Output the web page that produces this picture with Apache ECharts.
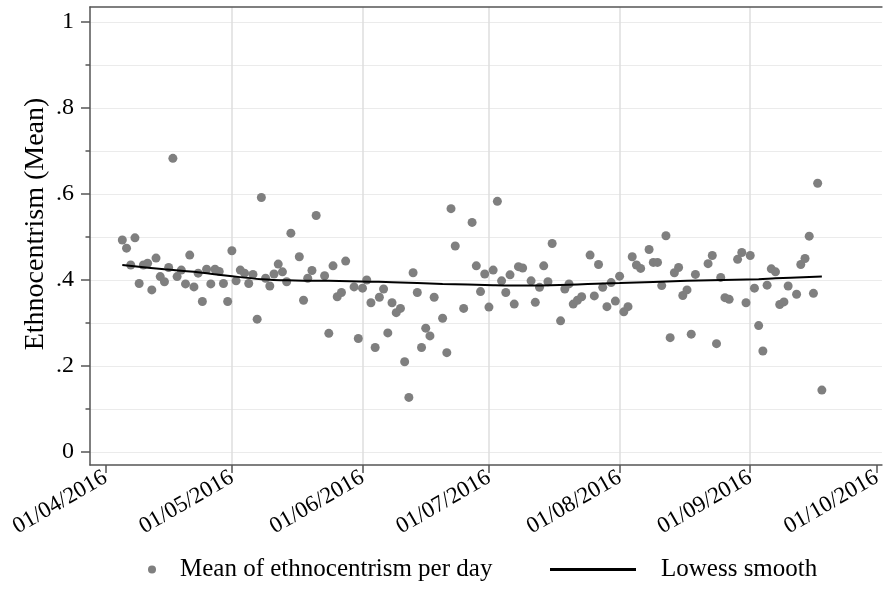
<!DOCTYPE html>
<html>
<head>
<meta charset="utf-8">
<script src="https://cdn.jsdelivr.net/npm/echarts@6/dist/echarts.min.js"></script>
<style>
html,body{margin:0;padding:0;background:#fff;}
#chart{width:885px;height:609px;}
</style>
</head>
<body>
<div id="chart"></div>
<script>
// ---- data ----
const dayDates = [
'2016-04-05','2016-04-06','2016-04-07','2016-04-08','2016-04-09','2016-04-10','2016-04-11','2016-04-12','2016-04-13','2016-04-14',
'2016-04-15','2016-04-16','2016-04-17','2016-04-18','2016-04-19','2016-04-20','2016-04-21','2016-04-22','2016-04-23','2016-04-24',
'2016-04-25','2016-04-26','2016-04-27','2016-04-28','2016-04-29','2016-04-30','2016-05-01','2016-05-02','2016-05-03','2016-05-04',
'2016-05-05','2016-05-06','2016-05-07','2016-05-08','2016-05-09','2016-05-10','2016-05-11','2016-05-12','2016-05-13','2016-05-14',
'2016-05-15','2016-05-17','2016-05-18','2016-05-19','2016-05-20','2016-05-21','2016-05-23','2016-05-24','2016-05-25','2016-05-26',
'2016-05-27','2016-05-28','2016-05-30','2016-05-31','2016-06-01','2016-06-02','2016-06-03','2016-06-04','2016-06-05','2016-06-06',
'2016-06-07','2016-06-08','2016-06-09','2016-06-10','2016-06-11','2016-06-12','2016-06-13','2016-06-14','2016-06-15','2016-06-16',
'2016-06-17','2016-06-18','2016-06-20','2016-06-21','2016-06-22','2016-06-23','2016-06-25','2016-06-27','2016-06-28','2016-06-29',
'2016-06-30','2016-07-01','2016-07-02','2016-07-03','2016-07-04','2016-07-05','2016-07-06','2016-07-07','2016-07-08','2016-07-09',
'2016-07-11','2016-07-12','2016-07-13','2016-07-14','2016-07-15','2016-07-16','2016-07-18','2016-07-19','2016-07-20','2016-07-21',
'2016-07-22','2016-07-23','2016-07-25','2016-07-26','2016-07-27','2016-07-28','2016-07-29','2016-07-30','2016-07-31','2016-08-01',
'2016-08-02','2016-08-03','2016-08-04','2016-08-05','2016-08-06','2016-08-08','2016-08-09','2016-08-10','2016-08-11','2016-08-12',
'2016-08-13','2016-08-14','2016-08-15','2016-08-16','2016-08-17','2016-08-18','2016-08-19','2016-08-22','2016-08-23','2016-08-24',
'2016-08-25','2016-08-26','2016-08-27','2016-08-29','2016-08-30','2016-08-31','2016-09-01','2016-09-02','2016-09-03','2016-09-04',
'2016-09-05','2016-09-06','2016-09-07','2016-09-08','2016-09-09','2016-09-10','2016-09-12','2016-09-13','2016-09-14','2016-09-15',
'2016-09-16','2016-09-17','2016-09-18'
];
const dayMeans = [
0.493,0.474,0.435,0.498,0.392,0.435,0.439,0.377,0.451,0.408,
0.396,0.429,0.683,0.408,0.423,0.391,0.458,0.384,0.416,0.350,
0.425,0.391,0.425,0.420,0.392,0.350,0.468,0.398,0.423,0.416,
0.392,0.413,0.309,0.592,0.404,0.386,0.414,0.437,0.419,0.396,
0.509,0.454,0.353,0.404,0.422,0.550,0.410,0.276,0.433,0.361,
0.371,0.444,0.384,0.264,0.381,0.400,0.347,0.243,0.360,0.379,
0.277,0.347,0.324,0.334,0.210,0.127,0.417,0.371,0.243,0.288,
0.270,0.360,0.311,0.231,0.566,0.479,0.334,0.534,0.433,0.373,
0.414,0.337,0.423,0.583,0.398,0.371,0.412,0.344,0.431,0.428,
0.398,0.348,0.383,0.433,0.396,0.485,0.305,0.379,0.391,0.344,
0.353,0.361,0.458,0.363,0.436,0.383,0.338,0.394,0.351,0.409,
0.326,0.338,0.454,0.435,0.427,0.471,0.441,0.441,0.387,0.503,
0.266,0.417,0.429,0.364,0.377,0.274,0.413,0.438,0.457,0.252,
0.406,0.359,0.355,0.448,0.464,0.347,0.457,0.381,0.294,0.235,
0.388,0.426,0.419,0.343,0.349,0.386,0.367,0.436,0.450,0.502,
0.369,0.625,0.144
];
const lowessDates = ['2016-04-05','2016-04-15','2016-04-22','2016-04-30','2016-05-08','2016-05-16','2016-05-24','2016-06-03','2016-06-08','2016-06-20','2016-07-02','2016-07-10','2016-07-20','2016-07-28','2016-08-01','2016-08-17','2016-09-03','2016-09-07','2016-09-18'];
const lowessValues = [0.435,0.425,0.419,0.410,0.402,0.399,0.398,0.396,0.395,0.391,0.388,0.387,0.389,0.392,0.393,0.398,0.402,0.404,0.408];
const monthTicks = ['2016-04-01','2016-05-01','2016-06-01','2016-07-01','2016-08-01','2016-09-01','2016-10-01'];
const monthGrid = ['2016-05-01','2016-06-01','2016-07-01','2016-08-01','2016-09-01'];
const yMajorTicks = [0,0.2,0.4,0.6,0.8,1];
const yAllTicks = [0,0.1,0.2,0.3,0.4,0.5,0.6,0.7,0.8,0.9,1];
const seriesNames = ['Mean of ethnocentrism per day','Lowess smooth'];
const yTitle = 'Ethnocentrism (Mean)';

// ---- helpers ----
function toTs(s){ const p = s.split(/[- :]/).map(Number); return new Date(p[0], p[1]-1, p[2], p[3]||0, p[4]||0).getTime(); }
function pad(n){ return (n<10?'0':'')+n; }
function fmtDate(v){ const d = new Date(v); return pad(d.getDate())+'/'+pad(d.getMonth()+1)+'/'+d.getFullYear(); }
function fmtY(v){ if (Math.abs(v) < 1e-9) return '0'; if (Math.abs(v-1) < 1e-9) return '1'; return '.' + Math.round(v*10); }

const FONT = 'Liberation Serif';
const AXIS_COLOR = '#555555';
const VGRID_COLOR = '#dedede';
const HGRID_COLOR = '#ebebeb';
const xMin = toTs('2016-03-28 08:00');
const xMax = toTs('2016-10-02 06:00');
const yMin = -0.0302, yMax = 1.0349;

const chart = echarts.init(document.getElementById('chart'), null, {renderer:'canvas'});
chart.setOption({
  animation: false,
  backgroundColor: '#fff',
  grid: { left: 90, right: 0, top: 7, height: 458, containLabel: false },
  xAxis: [
    { type: 'value', min: xMin, max: xMax, position: 'bottom', scale: true,
      axisLine: { show: true, onZero: false, lineStyle: { color: AXIS_COLOR, width: 1.5 } },
      axisTick: { show: true, length: 8, customValues: monthTicks.map(toTs), lineStyle: { color: AXIS_COLOR, width: 1.5 } },
      axisLabel: { show: true, customValues: monthTicks.map(toTs), rotate: 30, margin: 11, formatter: fmtDate,
        fontFamily: FONT, fontSize: 23, color: '#000' },
      splitLine: { show: false }
    },
    { type: 'value', min: xMin, max: xMax, position: 'bottom', scale: true,
      axisLine: { show: false, onZero: false }, axisTick: { show: false, customValues: monthGrid.map(toTs) },
      axisLabel: { show: false },
      splitLine: { show: true, lineStyle: { color: VGRID_COLOR, width: 1.5 } }
    },
    { type: 'value', min: 0, max: 1, position: 'top',
      axisLine: { show: true, onZero: false, lineStyle: { color: AXIS_COLOR, width: 1.5 } },
      axisTick: { show: false }, axisLabel: { show: false }, splitLine: { show: false }
    }
  ],
  yAxis: [
    { type: 'value', min: yMin, max: yMax, position: 'left',
      name: yTitle, nameLocation: 'middle', nameRotate: 90, nameGap: 40, nameMoveOverlap: false,
      nameTextStyle: { fontFamily: FONT, fontSize: 28, color: '#000', padding: [0,0,0,24] },
      axisLine: { show: true, onZero: false, lineStyle: { color: AXIS_COLOR, width: 1.5 } },
      axisTick: { show: true, length: 9, customValues: yMajorTicks, lineStyle: { color: AXIS_COLOR, width: 1.5 } },
      axisLabel: { show: true, customValues: yMajorTicks, formatter: fmtY, margin: 16,
        fontFamily: FONT, fontSize: 24, color: '#000' },
      splitLine: { show: false }
    },
    { type: 'value', min: yMin, max: yMax, position: 'left',
      axisLine: { show: false, onZero: false },
      axisTick: { show: true, length: 4.5, customValues: yAllTicks, lineStyle: { color: AXIS_COLOR, width: 1.5 } },
      axisLabel: { show: false },
      splitLine: { show: true, lineStyle: { color: HGRID_COLOR, width: 1 } }
    }
  ],
  legend: [
    { data: [{ name: seriesNames[0], icon: 'circle' }], left: 143, top: 552,
      itemWidth: 46, itemHeight: 8, textStyle: { fontFamily: FONT, fontSize: 25, color: '#000' } },
    { data: [{ name: seriesNames[1], icon: 'path://M0,0 H86 V3 H0 Z' }], left: 545, top: 552,
      itemWidth: 126, itemHeight: 3, textStyle: { fontFamily: FONT, fontSize: 25, color: '#000' } }
  ],
  series: [
    { name: seriesNames[0], type: 'scatter', xAxisIndex: 0, yAxisIndex: 0,
      symbol: 'circle', symbolSize: 9, itemStyle: { color: '#7f7f7f', opacity: 1 },
      data: dayDates.map((d,i) => [toTs(d), dayMeans[i]]), z: 3 },
    { name: seriesNames[1], type: 'line', xAxisIndex: 0, yAxisIndex: 0,
      showSymbol: false, smooth: 0.4, lineStyle: { color: '#000', width: 2 }, itemStyle: { color: '#000' },
      data: lowessDates.map((d,i) => [toTs(d), lowessValues[i]]), z: 4 }
  ]
});
</script>
</body>
</html>
